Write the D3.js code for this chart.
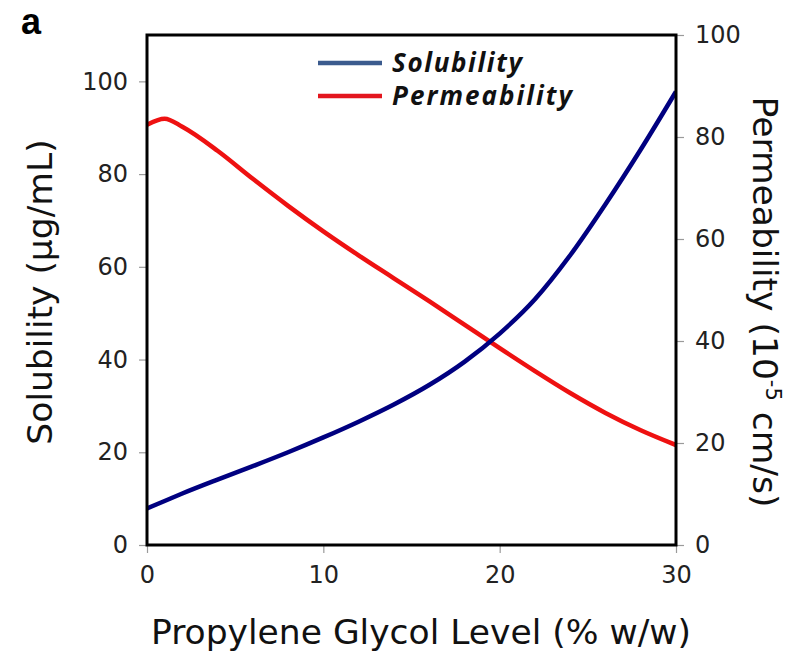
<!DOCTYPE html>
<html><head><meta charset="utf-8">
<script src="https://cdn.jsdelivr.net/npm/d3@7"></script>
<style>body{margin:0;background:#fff}</style>
</head><body>
<script>
const xValues = [0, 1, 2, 4, 6, 8, 10, 12, 14, 16, 18, 20, 22, 24, 26, 28, 30];
const solubility = [7.9, 9.5, 11.1, 14.1, 17.0, 20.0, 23.2, 26.6, 30.3, 34.5, 39.5, 45.6, 53.0, 62.5, 73.5, 85.3, 97.8];
const permeability = [82.4, 83.6, 82.0, 77.3, 71.8, 66.5, 61.5, 56.8, 52.3, 47.8, 43.2, 38.6, 34.1, 29.8, 25.9, 22.5, 19.6];
const xTicks = [0, 10, 20, 30];
const leftTicks = [0, 20, 40, 60, 80, 100];
const rightTicks = [0, 20, 40, 60, 80, 100];
const seriesNames = ["Solubility", "Permeability"];

const W = 798, H = 654;
const L = 147, R = 676, T = 35, B = 545;
const svg = d3.select("body").append("svg").attr("width", W).attr("height", H)
  .style("font-family", "'DejaVu Sans', Verdana, sans-serif");

const x = d3.scaleLinear().domain([0, 30]).range([L, R]);
const yL = d3.scaleLinear().domain([0, 110]).range([B, T]);
const yR = d3.scaleLinear().domain([0, 100]).range([B, T]);

function styleAxis(g) {
  g.select(".domain").remove();
  g.selectAll(".tick line").attr("stroke", "#9a9a9a").attr("stroke-width", 1.2);
  g.selectAll(".tick text").attr("fill", "#222").style("font-size", "24px")
    .style("font-family", "'DejaVu Sans', Verdana, sans-serif");
}

svg.append("g").attr("transform", `translate(${L},0)`)
  .call(d3.axisLeft(yL).tickValues(leftTicks).tickSize(8).tickPadding(11))
  .call(styleAxis);
svg.append("g").attr("transform", `translate(${R},0)`)
  .call(d3.axisRight(yR).tickValues(rightTicks).tickSize(8).tickPadding(11))
  .call(styleAxis);
svg.append("g").attr("transform", `translate(0,${B})`)
  .call(d3.axisBottom(x).tickValues(xTicks).tickSize(8).tickPadding(13))
  .call(styleAxis);

const line = (yScale) => d3.line().x((d, i) => x(xValues[i])).y(d => yScale(d)).curve(d3.curveMonotoneX);

svg.append("clipPath").attr("id", "clip").append("rect")
  .attr("x", L).attr("y", T).attr("width", R - L).attr("height", B - T);

svg.append("path").datum(permeability).attr("d", line(yR))
  .attr("fill", "none").attr("stroke", "#ee1111").attr("stroke-width", 4.5)
  .attr("clip-path", "url(#clip)");
svg.append("path").datum(solubility).attr("d", line(yL))
  .attr("fill", "none").attr("stroke", "#000080").attr("stroke-width", 4.5)
  .attr("clip-path", "url(#clip)");

// frame
svg.append("rect").attr("x", L).attr("y", T).attr("width", R - L).attr("height", B - T)
  .attr("fill", "none").attr("stroke", "#000").attr("stroke-width", 3);

// legend
const legColors = ["#3b5b8e", "#e3161e"];
const legWidths = [130, 180];
const leg = svg.append("g");
seriesNames.forEach((name, i) => {
  const yy = 63 + i * 33;
  leg.append("line").attr("x1", 318).attr("x2", 382).attr("y1", yy).attr("y2", yy)
    .attr("stroke", legColors[i]).attr("stroke-width", 4.5);
  leg.append("text").attr("x", 392).attr("y", yy + 9).text(name)
    .attr("textLength", legWidths[i]).attr("lengthAdjust", "spacing")
    .style("font-family", "'Open Sans', Lato, sans-serif").style("font-weight", "bold")
    .style("font-style", "italic").style("font-size", "26px").attr("fill", "#111");
});

// axis titles
svg.append("text").attr("transform", `translate(52,292) rotate(-90)`).attr("text-anchor", "middle")
  .style("font-size", "34.5px").attr("fill", "#111").text("Solubility (µg/mL)");
const rt = svg.append("text").attr("transform", `translate(753,302) rotate(90)`).attr("text-anchor", "middle")
  .style("font-size", "34.5px").attr("fill", "#111");
rt.append("tspan").text("Permeability (10");
rt.append("tspan").attr("dy", -13).style("font-size", "21px").text("-5");
rt.append("tspan").attr("dy", 13).text(" cm/s)");
svg.append("text").attr("x", 421).attr("y", 644).attr("text-anchor", "middle")
  .style("font-size", "34.5px").attr("fill", "#111").text("Propylene Glycol Level (% w/w)");

svg.append("text").attr("x", 21).attr("y", 34).style("font-family", "'Liberation Sans', Arial, sans-serif")
  .style("font-weight", "bold").style("font-size", "36px").attr("fill", "#000").text("a");
</script>
</body></html>
